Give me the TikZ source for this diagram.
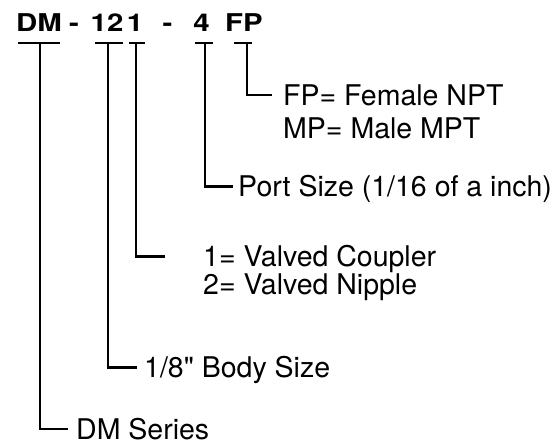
\documentclass[tikz,border=0pt]{standalone}
\usepackage{fontspec}
\newfontfamily\lblfont{TeX Gyre Heros}
\newfontfamily\codefont{texgyreheros-bold}[Extension=.otf, FakeStretch=1.2]
\usetikzlibrary{positioning}

\begin{document}
\begin{tikzpicture}[x=1pt,y=-1pt,
        leg/.style={line width=2.4pt},
        code/.style={anchor=base, inner sep=0pt, font=\codefont\fontsize{24.5}{26}\selectfont},
        lbl/.style={anchor=west, inner sep=0pt, text height=20pt, text depth=0pt, font=\lblfont\fontsize{28.5}{30}\selectfont}]

        \useasboundingbox (0,0) rectangle (559,444);

        % Part number
        \node[code] (dm) at (39,31.5) {DM};
        \node[code] (dashA) at (74,31.5) {-};
        \node[code] (size) at (107,31.5) {12};
        \node[code] (type) at (135,31.5) {1};
        \node[code] (dashB) at (167.5,31.5) {-};
        \node[code] (port) at (201.5,31.5) {4};
        \node[code] (ends) at (244,31.5) {FP};

        % Underscores below the code
        \foreach \name/\xa/\xm/\xb in {dmT/18/40/60, szT/95/108/123, tyT/129/136/145, ptT/195/205/213, enT/234/247/252}
        {
            \draw[leg] (\xa,43) -- (\xb,43);
            \coordinate (\name) at (\xm,43);
        }

        % Labels
        \node[lbl] (fp) at (283,95) {FP= Female NPT};
        \node[lbl] (mp) at (283,128) {MP= Male MPT};
        \node[lbl] (portlbl) at (238,186.5) {Port Size (1/16 of a inch)};
        \node[lbl] (cpl) at (203,256.5) {1= Valved Coupler};
        \node[lbl] (nip) at (203,284.5) {2= Valved Nipple};
        \node[lbl] (bodylbl) at (144,367.5) {1/8" Body Size};
        \node[lbl] (series) at (76,429) {DM Series};

        % Legs
        \draw[leg] (enT) |- ([xshift=-11pt]fp.west);
        \draw[leg] (ptT) |- ([xshift=-5pt]portlbl.west);
        \draw[leg] (tyT) |- ([xshift=-38pt]cpl.west);
        \draw[leg] (szT) |- ([xshift=-7pt]bodylbl.west);
        \draw[leg] (dmT) |- ([xshift=-8pt]series.west);

    \end{tikzpicture}
\end{document}
